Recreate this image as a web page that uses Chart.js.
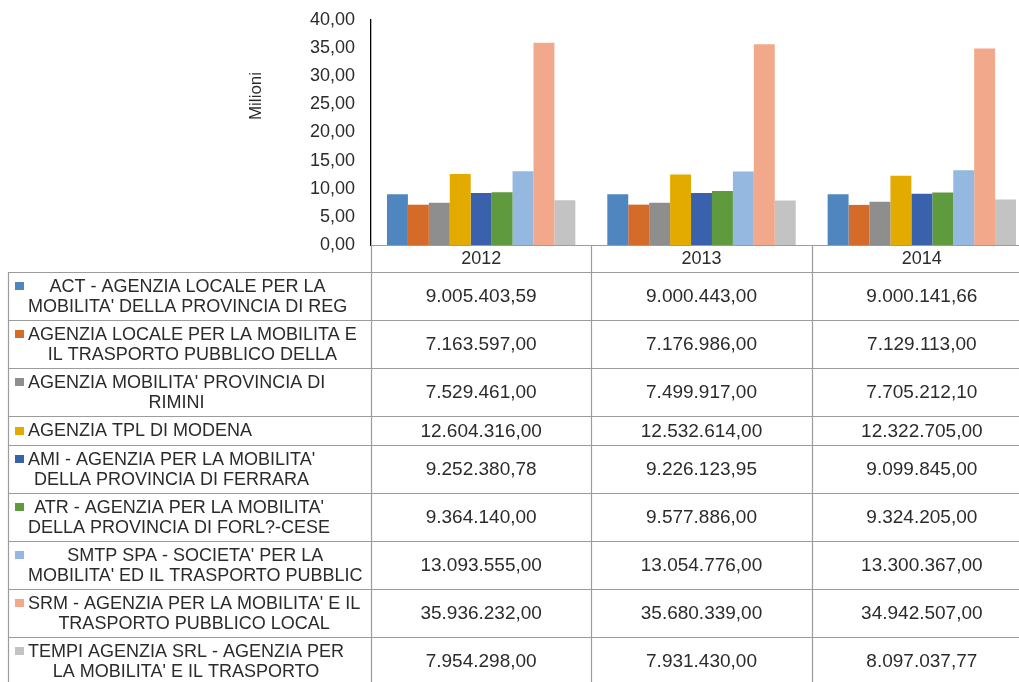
<!DOCTYPE html>
<html>
<head>
<meta charset="utf-8">
<script src="https://cdn.jsdelivr.net/npm/chart.js@4.4.1/dist/chart.umd.min.js"></script>
<style>
  html, body { margin: 0; padding: 0; background: #fff; overflow: hidden; }
  #wrap { position: relative; width: 1035px; height: 682px; }
</style>
</head>
<body>
<div id="wrap"><canvas id="chart"></canvas></div>
<script>
// anni (colonne della tabella dati)
const years = ['2012', '2013', '2014'];

// nomi delle agenzie, come troncati nella tabella originale
const agencyNames = [
  ["ACT - AGENZIA LOCALE PER LA", "MOBILITA' DELLA PROVINCIA DI REG"],
  ["AGENZIA LOCALE PER LA MOBILITA E", "IL TRASPORTO PUBBLICO DELLA"],
  ["AGENZIA MOBILITA' PROVINCIA DI", "RIMINI"],
  ["AGENZIA TPL DI MODENA"],
  ["AMI - AGENZIA PER LA MOBILITA'", "DELLA PROVINCIA DI FERRARA"],
  ["ATR - AGENZIA PER LA MOBILITA'", "DELLA PROVINCIA DI FORL?-CESE"],
  ["SMTP SPA - SOCIETA' PER LA", "MOBILITA' ED IL TRASPORTO PUBBLIC"],
  ["SRM - AGENZIA PER LA MOBILITA' E IL", "TRASPORTO PUBBLICO LOCAL"],
  ["TEMPI AGENZIA SRL - AGENZIA PER", "LA MOBILITA' E IL TRASPORTO"]
];

// valori in euro per anno
const actValues    = [9005403.59, 9000443.00, 9000141.66];
const alpValues    = [7163597.00, 7176986.00, 7129113.00];
const riminiValues = [7529461.00, 7499917.00, 7705212.10];
const modenaValues = [12604316.00, 12532614.00, 12322705.00];
const amiValues    = [9252380.78, 9226123.95, 9099845.00];
const atrValues    = [9364140.00, 9577886.00, 9324205.00];
const smtpValues   = [13093555.00, 13054776.00, 13300367.00];
const srmValues    = [35936232.00, 35680339.00, 34942507.00];
const tempiValues  = [7954298.00, 7931430.00, 8097037.77];

const seriesValues = [actValues, alpValues, riminiValues, modenaValues, amiValues,
                      atrValues, smtpValues, srmValues, tempiValues];

// asse y (milioni)
const yMin = 0, yMax = 40, yStep = 5;
const yTitle = 'Milioni';

// colori serie
const colors = ['#4F86C0', '#D56B29', '#8E8E8E', '#E3AA00', '#3A62AC',
                '#5F9A3F', '#95B8E1', '#F2A98B', '#C3C3C3'];

const FONT = "'Liberation Sans', Arial, sans-serif";
const TEXT = '#2b2b2b';
const LINE = '#9c9c9c';

// 9005403.59 -> "9.005.403,59"
function fmt(v) {
  const parts = v.toFixed(2).split('.');
  const int = parts[0].replace(/\B(?=(\d{3})+(?!\d))/g, '.');
  return int + ',' + parts[1];
}

const tablePlugin = {
  id: 'dataTable',
  afterDraw(chart) {
    const ctx = chart.ctx;
    const area = chart.chartArea;
    const xs = chart.scales.x;
    const colW = (area.right - area.left) / years.length;
    const edges = years.map((_, i) => xs.getPixelForValue(i) - colW / 2);
    edges.push(xs.getPixelForValue(years.length - 1) + colW / 2);
    const tableLeft = 8;
    const headerBottom = area.bottom + 27;

    // altezze righe
    const rowTops = [headerBottom];
    agencyNames.forEach(n => rowTops.push(rowTops[rowTops.length - 1] + (n.length > 1 ? 48 : 29)));

    ctx.save();
    ctx.strokeStyle = LINE;
    ctx.lineWidth = 1.2;
    ctx.beginPath();
    // linea asse x / bordo superiore intestazione
    ctx.moveTo(area.left, area.bottom + 0.5);
    ctx.lineTo(edges[edges.length - 1], area.bottom + 0.5);
    rowTops.forEach(t => {
      ctx.moveTo(tableLeft, t + 0.5);
      ctx.lineTo(edges[edges.length - 1], t + 0.5);
    });
    const tableBottom = rowTops[rowTops.length - 1];
    ctx.moveTo(tableLeft + 0.5, headerBottom);
    ctx.lineTo(tableLeft + 0.5, tableBottom);
    edges.forEach(e => {
      ctx.moveTo(Math.round(e) + 0.5, area.bottom);
      ctx.lineTo(Math.round(e) + 0.5, tableBottom);
    });
    ctx.stroke();

    // intestazione anni
    ctx.fillStyle = TEXT;
    ctx.font = '18px ' + FONT;
    ctx.textAlign = 'center';
    ctx.textBaseline = 'middle';
    years.forEach((y, i) => ctx.fillText(y, xs.getPixelForValue(i), (area.bottom + headerBottom) / 2 + 1));

    // righe serie
    agencyNames.forEach((lines, r) => {
      const top = rowTops[r], bot = rowTops[r + 1];
      const mid = (top + bot) / 2;
      const lh = 20;
      const firstY = mid - (lines.length - 1) * lh / 2;

      // chiave legenda
      ctx.fillStyle = colors[r];
      ctx.fillRect(15, Math.round(firstY) - 4, 9, 8);

      // testo etichetta
      ctx.fillStyle = TEXT;
      ctx.font = '18px ' + FONT;
      const w = Math.max(...lines.map(l => ctx.measureText(l).width));
      const cx = 28 + w / 2;
      ctx.textAlign = 'center';
      lines.forEach((l, k) => ctx.fillText(l, cx, firstY + k * lh + 1));

      // valori
      ctx.font = '19px ' + FONT;
      seriesValues[r].forEach((v, i) => {
        ctx.fillText(fmt(v), xs.getPixelForValue(i), mid + 1);
      });
    });

    // titolo asse y
    ctx.save();
    ctx.translate(256, 96);
    ctx.rotate(-Math.PI / 2);
    ctx.font = '17px ' + FONT;
    ctx.fillStyle = TEXT;
    ctx.textAlign = 'center';
    ctx.textBaseline = 'middle';
    ctx.fillText(yTitle, 0, 0);
    ctx.restore();
    ctx.restore();
  }
};

window.addEventListener('load', () => {
  const datasets = agencyNames.map((n, i) => ({
    label: n.join(' '),
    data: seriesValues[i].map(v => v / 1e6),
    backgroundColor: colors[i],
    borderWidth: 0,
    categoryPercentage: 0.855,
    barPercentage: 1.0
  }));

  new Chart(document.getElementById('chart'), {
    type: 'bar',
    data: { labels: years, datasets: datasets },
    options: {
      responsive: true,
      maintainAspectRatio: false,
      animation: false,
      layout: { padding: { left: 0, top: 20, right: 3, bottom: 437 } },
      plugins: { legend: { display: false }, tooltip: { enabled: false } },
      scales: {
        x: { display: false },
        y: {
          min: yMin,
          max: yMax,
          ticks: {
            stepSize: yStep,
            color: TEXT,
            font: { family: FONT, size: 18 },
            padding: 16,
            callback: v => v.toFixed(2).replace('.', ',')
          },
          grid: { display: false, drawTicks: false },
          border: { display: true, color: '#000', width: 1.3 },
          afterFit: s => { s.width = 371; s.paddingTop = 0; s.paddingBottom = 0; }
        }
      }
    },
    plugins: [tablePlugin]
  });
});
</script>
</body>
</html>
